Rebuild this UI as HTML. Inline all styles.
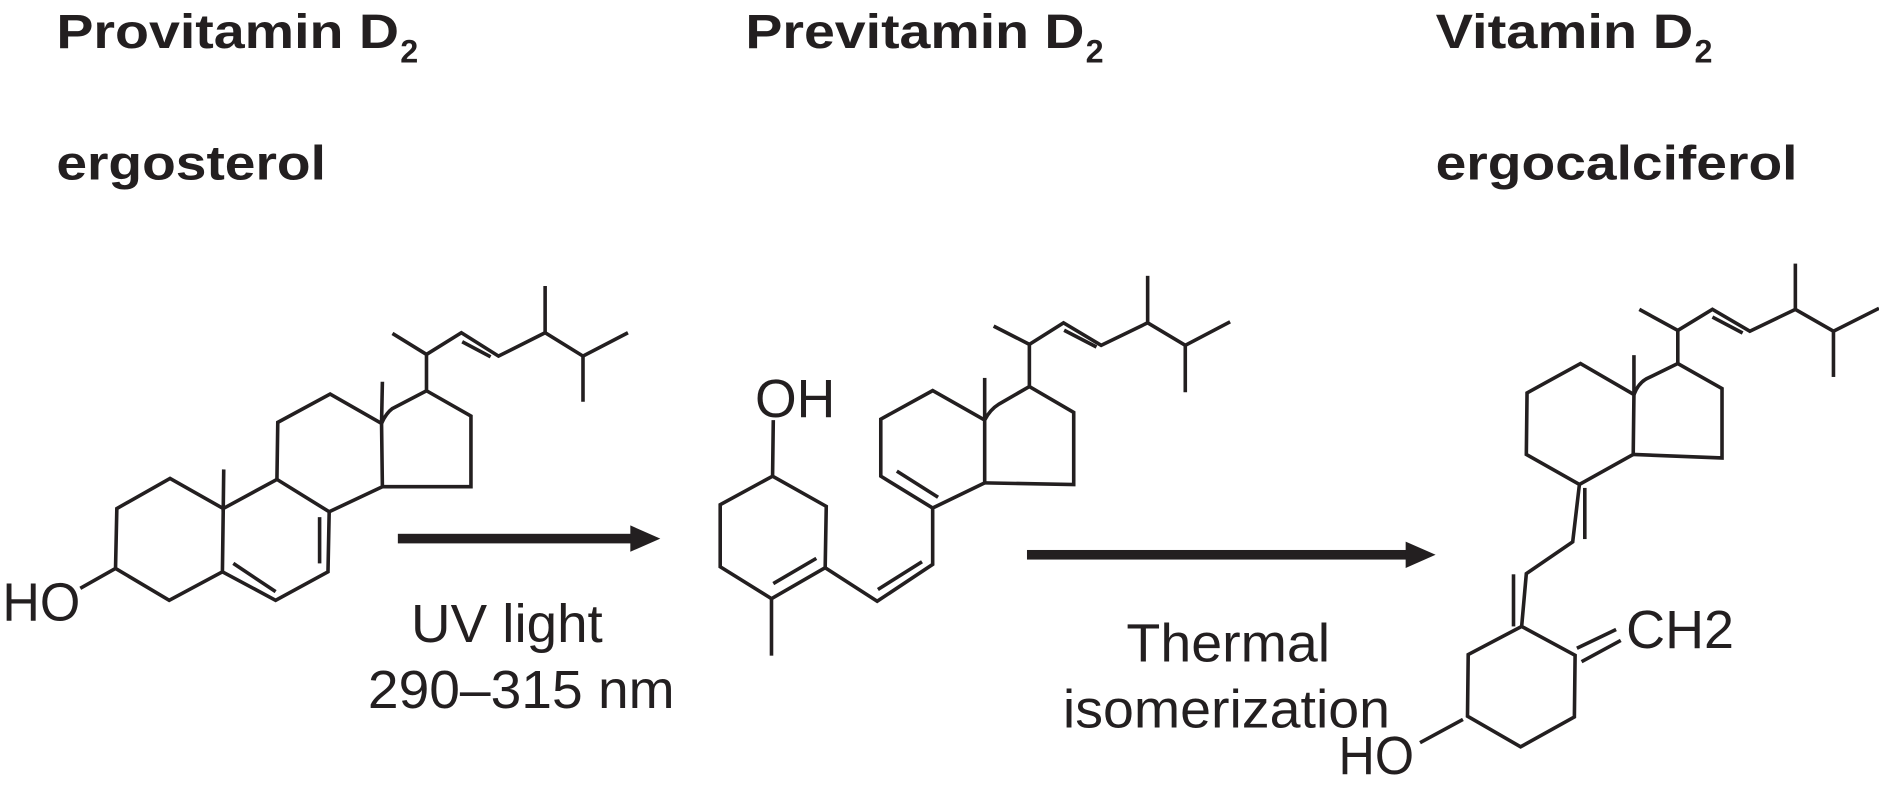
<!DOCTYPE html>
<html><head><meta charset="utf-8"><style>html,body{margin:0;padding:0;background:#fff}svg{display:block}</style></head>
<body>
<svg width="1879" height="804" viewBox="0 0 1568 671" preserveAspectRatio="none" xmlns="http://www.w3.org/2000/svg">
<g font-family="Liberation Sans, Arial, sans-serif" fill="#231f20">
<g font-weight="bold" font-size="40">
<text x="47" y="40" textLength="286" lengthAdjust="spacingAndGlyphs">Provitamin D</text><text x="334" y="52" font-size="27">2</text>
<text x="47" y="150" textLength="225" lengthAdjust="spacingAndGlyphs">ergosterol</text>
<text x="622" y="40" textLength="283" lengthAdjust="spacingAndGlyphs">Previtamin D</text><text x="906" y="52" font-size="27">2</text>
<text x="1198" y="40" textLength="215" lengthAdjust="spacingAndGlyphs">Vitamin D</text><text x="1414" y="52" font-size="27">2</text>
<text x="1198" y="150" textLength="302" lengthAdjust="spacingAndGlyphs">ergocalciferol</text>
</g>
<g font-size="45">
<text x="343" y="536" textLength="160" lengthAdjust="spacingAndGlyphs">UV light</text>
<text x="307" y="591" textLength="256" lengthAdjust="spacingAndGlyphs">290–315 nm</text>
<text x="940" y="552" textLength="170" lengthAdjust="spacingAndGlyphs">Thermal</text>
<text x="887" y="607" textLength="273" lengthAdjust="spacingAndGlyphs">isomerization</text>
<text x="2" y="518" textLength="65" lengthAdjust="spacingAndGlyphs">HO</text>
<text x="630" y="348" textLength="67" lengthAdjust="spacingAndGlyphs">OH</text>
<text x="1357" y="541" textLength="90" lengthAdjust="spacingAndGlyphs">CH2</text>
<text x="1117" y="646" textLength="63" lengthAdjust="spacingAndGlyphs">HO</text>
</g>
</g>
<g stroke="#231f20" stroke-width="3" fill="none" stroke-linejoin="miter">
<polyline points="67,491 96.4,474.4 97.5,424.4 141.9,399.3 186.3,424.4 185.6,477.2 141.2,501 96.4,474.4"/>
<polyline points="186.7,391.8 186.3,424.4 231.1,400.1 274.7,427.1 273.7,477.2 230,501 185.6,477.2"/>
<line x1="194.7" y1="470.2" x2="230" y2="493.8"/>
<line x1="266.7" y1="431.6" x2="266.7" y2="470.2"/>
<polyline points="231.1,400.1 231.8,352.5 275.5,328.9 318.4,353.4 319.1,406.2 274.7,427.1"/>
<line x1="319.1" y1="318.6" x2="318.4" y2="353.4"/>
<path d="M318.4,353.4 Q322,345 327.5,340.9 L355.9,326.1 L393,347.2 L393,406.2 L319.1,406.2"/>
<polyline points="355.9,326.1 355.9,295.8 327.5,278.3"/>
<polyline points="355.9,295.8 385,277.7 416,297.2 454.9,277.7 486.5,297.2 524,277.7"/>
<line x1="385.7" y1="285.2" x2="409.4" y2="297.8"/>
<line x1="454.9" y1="238.7" x2="454.9" y2="277.7"/>
<line x1="486.5" y1="297.2" x2="486.5" y2="335.3"/>
<polyline points="645.3,350.6 644.7,397.4 601,421.2 601,473 643.8,499.6 688.6,473.8 689.5,422.6 644.7,397.4"/>
<line x1="643.8" y1="499.6" x2="643.8" y2="547.2"/>
<line x1="645.3" y1="487" x2="681.2" y2="466"/>
<polyline points="688.6,473.8 732,501.8 778.3,471 778.3,424 735,397.4 735,349.8 778.3,326 821.7,350.6 821.7,403 778.3,424"/>
<line x1="732.6" y1="492" x2="769.4" y2="468.8"/>
<line x1="748.4" y1="393.2" x2="782.8" y2="415"/>
<line x1="821.7" y1="315.4" x2="821.7" y2="350.6"/>
<path d="M821.7,350.6 Q826,342 833.7,337.2 L859,322.6 L896,344.2 L896,404.4 L821.7,403"/>
<polyline points="859,322.6 859,287.4 829.2,272.2"/>
<polyline points="859,287.4 887.5,269.4 918.9,288.2 957.7,269.4 989.1,288.2 1026.5,268.6"/>
<line x1="888" y1="275.6" x2="915" y2="289.6"/>
<line x1="957.7" y1="230.2" x2="957.7" y2="269.4"/>
<line x1="989.1" y1="288.2" x2="989.1" y2="327.4"/>
<polyline points="1269.8,522.8 1225.2,546.3 1224.6,597.7 1268.9,623.3 1313.8,598.3 1314.4,546.9 1269.8,522.8"/>
<line x1="1220.8" y1="600.4" x2="1185" y2="619.8"/>
<line x1="1315.9" y1="541" x2="1348.6" y2="525.4"/>
<line x1="1319.8" y1="552.2" x2="1352.5" y2="534.5"/>
<polyline points="1269.8,522.8 1273.7,478.7 1312.4,452.2 1318,404.3"/>
<line x1="1263" y1="479.3" x2="1263" y2="522.8"/>
<line x1="1322.5" y1="407.2" x2="1322.5" y2="449.9"/>
<polyline points="1318,404.3 1273.7,379.3 1274.3,327.9 1318.9,303.4 1363.5,329.3 1362.9,379.3 1318,404.3"/>
<line x1="1363.5" y1="296.4" x2="1363.5" y2="329.3"/>
<path d="M1363.5,329.3 Q1367,320 1374,316.1 L1400.1,303.4 L1437,324.3 L1437,382.2 L1362.9,379.3"/>
<polyline points="1400.1,303.4 1400.1,275.8 1368,258.2"/>
<polyline points="1400.1,275.8 1429,258.2 1460.2,276.4 1498.2,258.2 1530,276.4 1568,257.3"/>
<line x1="1429" y1="264.6" x2="1454.2" y2="277.9"/>
<line x1="1498.2" y1="220" x2="1498.2" y2="258.2"/>
<line x1="1530" y1="276.4" x2="1530" y2="314.6"/>
</g>
<g fill="#231f20">
<rect x="332" y="445.5" width="198" height="8"/>
<polygon points="526,438.5 551,449.5 526,460.5"/>
<rect x="857" y="459" width="320" height="8"/>
<polygon points="1173,452 1198,463 1173,474"/>
</g>
</svg>
</body></html>
